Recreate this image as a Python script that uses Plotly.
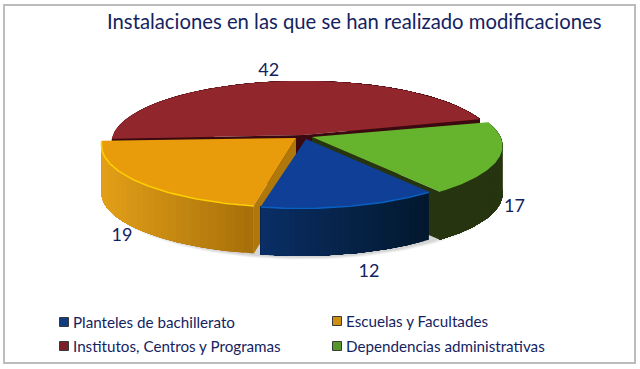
import numpy as np
import plotly.graph_objects as go

# ---- data ----
TITLE = "Instalaciones en las que se han realizado modificaciones"
categories = ["Planteles de bachillerato", "Escuelas y Facultades",
              "Institutos, Centros y Programas", "Dependencias administrativas"]
values = [12, 19, 42, 17]

# ---- styles ----
NAVY = "#14235f"
FONT = "Lato"
top_colors = ["#0f3f96", "#e89c0c", "#91262d", "#66b32e"]
cut_colors = ["#0a2f66", "#b0780a", "#3a0a10", "#26350f"]
side_from = ["#0a2f66", "#e3a018", "#5a1418", "#26350f"]
side_to = ["#02182e", "#a8700a", "#3a0a10", "#26350f"]
rim_colors = ["#0a5fc0", "#ffcf00", None, None]
legend_colors = ["#123c80", "#d0900f", "#7a1f28", "#55982a"]

# ---- pie geometry (pixel-valued axes) ----
W, H = 640, 369
CX, CY, RX, RY, K = 303, 137, 190, 61, 0.127
DEPTH = 48
START_DEG = 52.4
shift = [(-3, 1), (-10, 0), (0, -2), (8, 1)]
apex_shift = [(3, 2), (-7, 1), (0, -2), (9, 0)]
label_r = [1.25, 1.15, 1.25, 1.12]
draw_order = [2, 3, 1, 0]

fig = go.Figure()


def proj(theta, r=1.0):
    X, Y = r * np.cos(theta), r * np.sin(theta)
    w = 1 - K * Y
    return CX + RX * X / w, CY + RY * Y / w


def mix(a, b, t):
    ca = [int(a[i:i + 2], 16) for i in (1, 3, 5)]
    cb = [int(b[i:i + 2], 16) for i in (1, 3, 5)]
    return "rgb(%d,%d,%d)" % tuple(round(p + (q - p) * t) for p, q in zip(ca, cb))


def poly(xs, ys, color):
    fig.add_trace(go.Scatter(x=list(xs), y=list(ys), mode="lines", fill="toself",
                             fillcolor=color, line=dict(width=0),
                             hoverinfo="skip", showlegend=False))


total = sum(values)
edges = np.radians(START_DEG + 360 * np.cumsum([0] + values) / total)

# soft shadow beneath the base
tt = np.linspace(0, 2 * np.pi, 180)
for grow, alpha in [(1.035, 0.05), (1.025, 0.07), (1.012, 0.10)]:
    sx, sy = proj(tt, grow)
    poly(sx, sy + DEPTH + 2, "rgba(60,60,60,%.2f)" % alpha)

for i in draw_order:
    a0, a1 = edges[i], edges[i + 1]
    dx, dy = shift[i]
    th = np.linspace(a0, a1, 90)
    rx_, ry_ = proj(th)
    rx_, ry_ = rx_ + dx, ry_ + dy
    ax, ay = CX + apex_shift[i][0], CY + apex_shift[i][1]
    # outer wall ribbons in angle order, shaded by horizontal position
    lo, hi = rx_.min(), rx_.max()
    for j in range(0, len(th) - 1, 3):
        xs = list(rx_[j:]) + list(rx_[j:][::-1])
        ys = list(ry_[j:]) + list((ry_[j:] + DEPTH)[::-1])
        poly(xs, ys, mix(side_from[i], side_to[i], (rx_[j] - lo) / max(hi - lo, 1)))
    # cut faces that turn toward the viewer
    if np.sin(a0 - np.pi / 2) > 0:
        poly([ax, rx_[0], rx_[0], ax], [ay, ry_[0], ry_[0] + DEPTH, ay + DEPTH], cut_colors[i])
    if np.sin(a1 + np.pi / 2) > 0:
        poly([ax, rx_[-1], rx_[-1], ax], [ay, ry_[-1], ry_[-1] + DEPTH, ay + DEPTH], cut_colors[i])
    # top face
    poly([ax] + list(rx_) + [ax], [ay] + list(ry_) + [ay], top_colors[i])
    if rim_colors[i]:
        fig.add_trace(go.Scatter(x=rx_, y=ry_ + 0.5, mode="lines", hoverinfo="skip", showlegend=False,
                                 line=dict(color=rim_colors[i], width=1.6)))

# value labels
mids = (edges[:-1] + edges[1:]) / 2
lx, ly = [], []
for m, r in zip(mids, label_r):
    x_, y_ = proj(m, r)
    lx.append(x_)
    ly.append(y_ + (DEPTH if np.sin(m) > 0 else 0))
fig.add_trace(go.Scatter(x=lx, y=ly, mode="text", text=[str(v) for v in values],
                         textfont=dict(family=FONT, size=18, color=NAVY),
                         hoverinfo="skip", showlegend=False))

# legend (two columns)
leg_x = [64, 337, 64, 337]
leg_y = [322, 321, 346, 346]
for xx, yy, name, col in zip(leg_x, leg_y, categories, legend_colors):
    fig.add_trace(go.Scatter(x=[xx], y=[yy], mode="markers",
                             marker=dict(symbol="square", size=9, color=col,
                                         line=dict(width=1, color="#3a3a3a")),
                             hoverinfo="skip", showlegend=False))
    fig.add_annotation(x=xx + 7, y=yy, text=name, showarrow=False, xanchor="left", yanchor="middle",
                       font=dict(family=FONT, size=15.2, color=NAVY))

fig.add_annotation(x=105, y=21, text=TITLE, showarrow=False, xanchor="left", yanchor="middle",
                   font=dict(family=FONT, size=20.3, color=NAVY))

fig.update_layout(
    width=W, height=H, margin=dict(l=0, r=0, t=0, b=0),
    paper_bgcolor="white", plot_bgcolor="white", showlegend=False,
    xaxis=dict(range=[0, W], visible=False, fixedrange=True),
    yaxis=dict(range=[H, 0], visible=False, fixedrange=True),
    shapes=[dict(type="rect", xref="x", yref="y", x0=4, y0=5, x1=635, y1=363,
                 line=dict(color="#bcbcbc", width=2), fillcolor="rgba(0,0,0,0)", layer="below")],
)
fig.write_html("out.html", config=dict(displayModeBar=False),
               post_script="document.body.style.margin='0';document.documentElement.style.overflow='hidden';")
